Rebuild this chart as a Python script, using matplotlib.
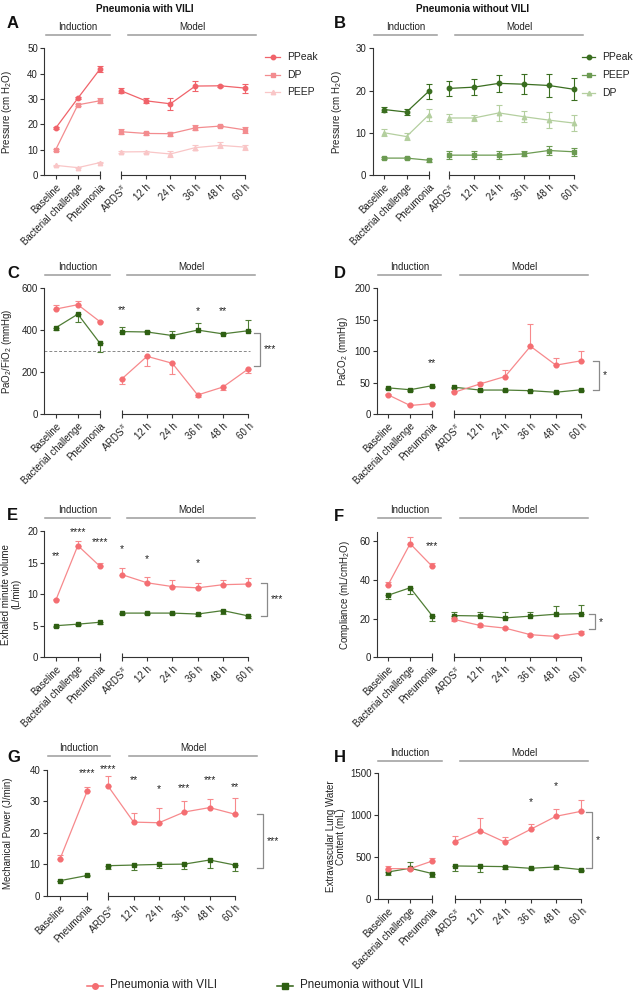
import matplotlib
matplotlib.use("Agg")
import matplotlib.pyplot as plt
from matplotlib.lines import Line2D

plt.rcParams['font.family'] = ['Liberation Sans', 'DejaVu Sans']
plt.rcParams['mathtext.fontset'] = 'custom'
plt.rcParams['mathtext.rm'] = 'Liberation Sans'
plt.rcParams['mathtext.it'] = 'Liberation Sans:italic'
plt.rcParams['mathtext.bf'] = 'Liberation Sans:bold'

# ---------------- data ----------------
ind_labels3 = ["Baseline", "Bacterial challenge", "Pneumonia"]
ind_labels2 = ["Baseline", "Pneumonia"]
mod_labels = ["ARDS$^{\\#}$", "12 h", "24 h", "36 h", "48 h", "60 h"]

# Panel A (Pneumonia with VILI) pressures, mean and symmetric error
A_ppeak = [18.5, 30.3, 41.8, 33.3, 29.3, 28.1, 35.1, 35.2, 34.3]
A_ppeak_err = [0.4, 0.5, 1.2, 1.0, 1.0, 2.4, 2.0, 0.3, 1.8]
A_dp = [10.0, 27.7, 29.3, 17.1, 16.4, 16.3, 18.6, 19.3, 17.8]
A_dp_err = [0.4, 0.5, 0.9, 0.9, 0.5, 0.8, 1.0, 0.5, 1.2]
A_peep = [3.8, 2.9, 4.9, 9.1, 9.2, 8.3, 10.8, 11.7, 11.0]
A_peep_err = [0.3, 0.3, 0.3, 0.4, 0.4, 1.2, 1.0, 1.2, 1.0]

# Panel B (Pneumonia without VILI)
B_ppeak = [15.5, 14.9, 19.8, 20.5, 20.8, 21.7, 21.5, 21.2, 20.3]
B_ppeak_err = [0.6, 0.7, 1.7, 1.8, 1.9, 2.0, 2.3, 2.8, 2.6]
B_peep = [4.0, 4.0, 3.5, 4.7, 4.7, 4.7, 5.0, 5.8, 5.5]
B_peep_err = [0.2, 0.2, 0.4, 0.9, 0.9, 0.9, 0.6, 1.0, 1.0]
B_dp = [10.0, 9.1, 14.2, 13.5, 13.5, 14.7, 13.8, 13.0, 12.3]
B_dp_err = [0.8, 0.9, 1.5, 1.0, 0.8, 1.8, 1.3, 1.9, 1.8]

# Panel C PaO2/FiO2
C_vili = [501, 522, 441, 168, 276, 243, 92, 130, 216]
C_vili_lo = [0, 0, 0, 24, 46, 53, 11, 14, 21]
C_vili_hi = [18, 16, 5, 0, 0, 0, 0, 0, 0]
C_novili = [412, 477, 338, 394, 392, 375, 401, 383, 398]
C_novili_lo = [11, 37, 40, 0, 0, 0, 0, 0, 0]
C_novili_hi = [0, 0, 0, 24, 4, 21, 35, 4, 49]

# Panel D PaCO2
D_vili = [31, 14, 17, 35, 48, 60, 108, 78, 85]
D_vili_lo = [0, 0, 0, 0, 0, 0, 0, 0, 0]
D_vili_hi = [1.5, 1.0, 1.0, 1.5, 3.0, 11, 36, 11, 16]
D_novili = [42, 39, 45.5, 43, 38.5, 38.5, 37.5, 35, 39]
D_novili_lo = [1.5, 1.5, 1.5, 1.5, 1.0, 1.0, 1.0, 1.0, 1.5]
D_novili_hi = [0, 0, 0, 0, 0, 0, 0, 0, 0]

# Panel E exhaled minute volume
E_vili = [9.0, 17.7, 14.4, 13.1, 11.8, 11.2, 11.0, 11.5, 11.6]
E_vili_lo = [0, 0, 0, 0, 0, 0, 0, 0, 0]
E_vili_hi = [0.2, 0.7, 0.5, 1.1, 0.9, 1.1, 0.7, 0.7, 0.9]
E_novili = [5.0, 5.25, 5.55, 7.0, 7.0, 7.0, 6.85, 7.4, 6.55]
E_novili_lo = [0.2, 0.2, 0.2, 0.2, 0.2, 0.2, 0.3, 0.6, 0.3]
E_novili_hi = [0, 0, 0, 0, 0, 0, 0, 0, 0]

# Panel F compliance
F_vili = [37.4, 58.8, 47.0, 19.6, 16.5, 15.1, 11.7, 10.8, 12.5]
F_vili_lo = [0, 0, 0, 0.8, 0.6, 0.7, 0.5, 0.5, 0.5]
F_vili_hi = [1.6, 3.7, 1.7, 0.8, 0.6, 0.7, 0.5, 0.5, 1.0]
F_novili = [32.1, 36.0, 21.4, 21.6, 21.4, 20.4, 21.3, 22.3, 22.6]
F_novili_lo = [1.9, 3.0, 2.4, 0, 0, 0, 0, 0, 0]
F_novili_hi = [0, 0, 0, 2.0, 2.2, 3.3, 1.9, 4.5, 4.6]

# Panel G mechanical power (no bacterial challenge point)
G_vili = [11.7, 33.3, 34.7, 23.4, 23.2, 26.6, 28.0, 25.9]
G_vili_lo = [0, 0, 0, 0, 0, 0, 0, 0]
G_vili_hi = [1.4, 1.3, 3.2, 2.9, 4.8, 3.5, 2.8, 5.2]
G_novili = [4.85, 6.5, 9.6, 9.8, 10.0, 10.1, 11.4, 9.8]
G_novili_lo = [0.2, 0.3, 1.1, 1.5, 1.0, 1.7, 2.5, 1.9]
G_novili_hi = [0, 0, 0, 0, 0, 0, 0, 0]

# Panel H extravascular lung water
H_vili = [365, 365, 456, 686, 817, 679, 833, 988, 1048]
H_vili_lo = [0, 20, 0, 0, 0, 0, 0, 0, 0]
H_vili_hi = [30, 0, 30, 69, 148, 66, 67, 87, 132]
H_novili = [325, 370, 306, 397, 393, 389, 369, 385, 353]
H_novili_lo = [35, 0, 36, 62, 68, 24, 14, 25, 13]
H_novili_hi = [0, 70, 0, 0, 0, 0, 0, 0, 0]

# significance annotations: (segment, index, y, text)
C_stars = [("m", 0, 497, "**"), ("m", 3, 492, "*"), ("m", 4, 492, "**")]
D_stars = [("i", 2, 81, "**")]
E_stars = [("i", 0, 16.0, "**"), ("i", 1, 19.8, "****"), ("i", 2, 18.3, "****"),
           ("m", 0, 17.1, "*"), ("m", 1, 15.6, "*"), ("m", 3, 14.9, "*")]
F_stars = [("i", 2, 57.8, "***")]
G_stars = [("i", 1, 38.8, "****"), ("m", 0, 40.2, "****"), ("m", 1, 36.6, "**"),
           ("m", 2, 33.9, "*"), ("m", 3, 34.1, "***"), ("m", 4, 36.6, "***"),
           ("m", 5, 34.5, "**")]
H_stars = [("m", 3, 1163, "*"), ("m", 4, 1353, "*")]

# ---------------- styling ----------------
W, H = 644.0, 992.0
PINK = '#F46E72'
PINK_L = '#F7898C'
GREEN = '#2E5F12'
GREEN_L = '#4F7D35'
A_cols = ['#F0636A', '#F38C8F', '#F9C6C7']
B_cols = ['#3A6E20', '#6C9B52', '#B4CF9F']
GRAY = '#9B9B9B'
TXT = '#222222'
FS = 7
SFS = 7.5

fig = plt.figure(figsize=(W / 100, H / 100), dpi=100)


def fx(x):
    return x / W


def fy(y):
    return 1 - y / H


def rect(x0, x1, ytop, ybot):
    return [x0 / W, 1 - ybot / H, (x1 - x0) / W, (ybot - ytop) / H]


def style_ax(ax, left_spine):
    for s in ['top', 'right']:
        ax.spines[s].set_visible(False)
    for s in ['left', 'bottom']:
        ax.spines[s].set_linewidth(0.8)
        ax.spines[s].set_color('#333333')
    if not left_spine:
        ax.spines['left'].set_visible(False)
        ax.set_yticks([])
    ax.patch.set_alpha(0)
    ax.tick_params(axis='both', which='major', direction='out', length=3,
                   width=0.8, color='#333333', labelsize=FS, pad=1.5,
                   labelcolor=TXT)
    ax.tick_params(axis='x', which='minor', direction='in', length=3,
                   width=0.8, color='#333333')
    ax.xaxis.remove_overlapping_locs = False


def make_panel(g, ylim, yticks, ind_labels):
    yax, i0, i1, m0, m1, ytop, ybot = g
    n = len(ind_labels)
    sp = (i1 - i0) / (n - 1)
    axi = fig.add_axes(rect(yax, i1, ytop, ybot))
    axi.set_xlim(-(i0 - yax) / sp, n - 1)
    axm = fig.add_axes(rect(m0, m1, ytop, ybot))
    axm.set_xlim(0, 5)
    for ax in (axi, axm):
        ax.set_ylim(*ylim)
    style_ax(axi, True)
    style_ax(axm, False)
    axi.set_yticks(yticks)
    axi.set_xticks(range(n))
    axi.set_xticklabels(ind_labels, rotation=45, ha='right',
                        rotation_mode='anchor')
    axi.set_xticks([n - 1], minor=True)
    axm.set_xticks(range(6))
    axm.set_xticklabels(mod_labels, rotation=45, ha='right',
                        rotation_mode='anchor')
    axm.set_xticks([0], minor=True)
    axi.tick_params(axis='x', pad=2)
    axm.tick_params(axis='x', pad=2)
    return axi, axm, n


def series(axi, axm, n, vals, lo, hi, color, lcolor, marker, ms):
    for ax, sl, xs in ((axi, slice(0, n), list(range(n))),
                       (axm, slice(n, n + 6), list(range(6)))):
        v = vals[sl]
        e = [lo[sl], hi[sl]]
        ax.plot(xs, v, '-', color=lcolor, lw=0.9, clip_on=False, zorder=3)
        cont = ax.errorbar(xs, v, yerr=e, fmt='none', ecolor=lcolor,
                           elinewidth=0.8, capsize=2.2, capthick=0.8,
                           zorder=3)
        for art in list(cont.lines[1]) + list(cont.lines[2]):
            art.set_clip_on(False)
        ax.plot(xs, v, linestyle='none', marker=marker, ms=ms, color=color,
                mec=color, clip_on=False, zorder=4)


def group_headers(y, ib, mb):
    for (x0, x1), lab in ((ib, 'Induction'), (mb, 'Model')):
        fig.add_artist(Line2D([fx(x0), fx(x1)], [fy(y), fy(y)],
                              color=GRAY, lw=1.1))
        fig.text(fx((x0 + x1) / 2), fy(y - 3), lab, ha='center',
                 va='bottom', fontsize=FS, color=TXT)


def letter(x, y, s):
    fig.text(fx(x), fy(y), s, ha='left', va='center', fontsize=12,
             fontweight='bold', color='#111111')


def ylabel(x, g, s):
    yc = (g[5] + g[6]) / 2
    fig.text(fx(x), fy(yc), s, rotation=90, ha='center', va='center',
             fontsize=FS, color=TXT, linespacing=1.1)


def stars(axi, axm, lst):
    for seg, idx, y, s in lst:
        ax = axi if seg == 'i' else axm
        ax.text(idx, y, s, ha='center', va='center', fontsize=SFS,
                color=TXT, clip_on=False)


def sig_bracket(axm, g, xpx, y1, y2, s):
    m0, m1 = g[3], g[4]
    xd = (xpx - m0) / (m1 - m0) * 5
    t = 6 / (m1 - m0) * 5
    axm.plot([xd - t, xd, xd, xd - t], [y1, y1, y2, y2], color='#8A8A8A',
             lw=0.9, clip_on=False)
    axm.text(xd + 4 / (m1 - m0) * 5, (y1 + y2) / 2, s, ha='left',
             va='center', fontsize=SFS, color=TXT, clip_on=False)


def legend_item(x0, x1, y, color, marker, ms, label, fs, lw=0.9):
    fig.add_artist(Line2D([fx(x0), fx(x1)], [fy(y), fy(y)], color=color,
                          lw=lw))
    fig.add_artist(Line2D([fx((x0 + x1) / 2)], [fy(y)], color=color,
                          marker=marker, ms=ms, linestyle='none'))
    fig.text(fx(x1 + 7), fy(y), label, ha='left', va='center', fontsize=fs,
             color=TXT)


# ---------------- Panel A ----------------
gA = (44.3, 55.7, 100.0, 120.7, 245.0, 48.3, 175.0)
axi, axm, n = make_panel(gA, (0, 50), [0, 10, 20, 30, 40, 50], ind_labels3)
series(axi, axm, n, A_peep, A_peep_err, A_peep_err, A_cols[2], A_cols[2], '^', 3.2)
series(axi, axm, n, A_dp, A_dp_err, A_dp_err, A_cols[1], A_cols[1], 's', 3.0)
series(axi, axm, n, A_ppeak, A_ppeak_err, A_ppeak_err, A_cols[0], A_cols[0], 'o', 3.2)
group_headers(35, (46, 110), (128, 256))
letter(7, 23, 'A')
fig.text(fx(145), fy(8.5), 'Pneumonia with VILI', ha='center', va='center',
         fontsize=7.2, fontweight='bold', color='#111111')
ylabel(7.5, gA, 'Pressure (cm H$_2$O)')
legend_item(265, 280, 57, A_cols[0], 'o', 3.2, 'PPeak', 7.5)
legend_item(265, 280, 75, A_cols[1], 's', 3.0, 'DP', 7.5)
legend_item(265, 280, 92, A_cols[2], '^', 3.2, 'PEEP', 7.5)

# ---------------- Panel B ----------------
gB = (372.7, 384.3, 428.7, 449.0, 573.7, 48.3, 175.0)
axi, axm, n = make_panel(gB, (0, 30), [0, 10, 20, 30], ind_labels3)
series(axi, axm, n, B_dp, B_dp_err, B_dp_err, B_cols[2], B_cols[2], '^', 3.2)
series(axi, axm, n, B_peep, B_peep_err, B_peep_err, B_cols[1], B_cols[1], 's', 3.0)
series(axi, axm, n, B_ppeak, B_ppeak_err, B_ppeak_err, B_cols[0], B_cols[0], 'o', 3.2)
group_headers(35, (373.7, 437), (455, 583))
letter(334, 23, 'B')
fig.text(fx(473), fy(8.5), 'Pneumonia without VILI', ha='center',
         va='center', fontsize=7.2, fontweight='bold', color='#111111')
ylabel(337, gB, 'Pressure (cm H$_2$O)')
legend_item(582, 595, 57, B_cols[0], 'o', 3.2, 'PPeak', 7.5)
legend_item(582, 595, 75, B_cols[1], 's', 3.0, 'PEEP', 7.5)
legend_item(582, 595, 93, B_cols[2], '^', 3.2, 'DP', 7.5)

# ---------------- Panel C ----------------
gC = (44.3, 55.7, 100.0, 121.7, 248.3, 288.3, 414.3)
axi, axm, n = make_panel(gC, (0, 600), [0, 200, 400, 600], ind_labels3)
sp = (gC[2] - gC[1]) / 2
axi.plot([-(gC[1] - gC[0]) / sp, (250 - gC[1]) / sp], [300, 300],
         ls=(0, (3, 2)), color='#888888', lw=0.7, clip_on=False, zorder=2)
series(axi, axm, n, C_novili, C_novili_lo, C_novili_hi, GREEN, GREEN_L, 's', 3.4)
series(axi, axm, n, C_vili, C_vili_lo, C_vili_hi, PINK, PINK_L, 'o', 3.4)
stars(axi, axm, C_stars)
sig_bracket(axm, gC, 260, 389, 229, '***')
group_headers(275, (45, 109.7), (127, 255))
letter(7, 273, 'C')
ylabel(7.5, gC, 'PaO$_2$/FiO$_2$ (mmHg)')

# ---------------- Panel D ----------------
gD = (377.0, 388.0, 432.3, 454.3, 581.3, 288.3, 414.3)
axi, axm, n = make_panel(gD, (0, 200), [0, 50, 100, 150, 200], ind_labels3)
series(axi, axm, n, D_novili, D_novili_lo, D_novili_hi, GREEN, GREEN_L, 's', 3.4)
series(axi, axm, n, D_vili, D_vili_lo, D_vili_hi, PINK, PINK_L, 'o', 3.4)
stars(axi, axm, D_stars)
sig_bracket(axm, gD, 598.7, 85, 39, '*')
group_headers(275, (378, 441.3), (460.3, 587.7))
letter(334, 273, 'D')
ylabel(343.5, gD, 'PaCO$_2$ (mmHg)')

# ---------------- Panel E ----------------
gE = (44.3, 55.7, 100.0, 121.7, 248.3, 531.0, 657.3)
axi, axm, n = make_panel(gE, (0, 20), [0, 5, 10, 15, 20], ind_labels3)
series(axi, axm, n, E_novili, E_novili_lo, E_novili_hi, GREEN, GREEN_L, 's', 3.4)
series(axi, axm, n, E_vili, E_vili_lo, E_vili_hi, PINK, PINK_L, 'o', 3.4)
stars(axi, axm, E_stars)
sig_bracket(axm, gE, 266.7, 11.7, 6.6, '***')
group_headers(517.7, (45, 109.7), (127, 255))
letter(7, 516, 'E')
ylabel(11, gE, 'Exhaled minute volume\n(L/min)')

# ---------------- Panel F ----------------
gF = (377.0, 388.0, 432.3, 454.3, 581.3, 531.7, 657.3)
axi, axm, n = make_panel(gF, (0, 65), [0, 20, 40, 60], ind_labels3)
series(axi, axm, n, F_novili, F_novili_lo, F_novili_hi, GREEN, GREEN_L, 's', 3.4)
series(axi, axm, n, F_vili, F_vili_lo, F_vili_hi, PINK, PINK_L, 'o', 3.4)
stars(axi, axm, F_stars)
sig_bracket(axm, gF, 594.7, 22.5, 14.4, '*')
group_headers(518.3, (378, 441.3), (460.3, 587.7))
letter(334, 516.7, 'F')
ylabel(345, gF, 'Compliance (mL/cmH$_2$O)')

# ---------------- Panel G ----------------
gG = (46.7, 60.0, 87.3, 108.3, 235.0, 769.7, 896.0)
axi, axm, n = make_panel(gG, (0, 40), [0, 10, 20, 30, 40], ind_labels2)
series(axi, axm, n, G_novili, G_novili_lo, G_novili_hi, GREEN, GREEN_L, 's', 3.4)
series(axi, axm, n, G_vili, G_vili_lo, G_vili_hi, PINK, PINK_L, 'o', 3.4)
stars(axi, axm, G_stars)
sig_bracket(axm, gG, 262.7, 25.9, 9.0, '***')
group_headers(756, (47.7, 110), (129.3, 256.7))
letter(7, 758, 'G')
ylabel(8.5, gG, 'Mechanical Power (J/min)')

# ---------------- Panel H ----------------
gH = (377.7, 388.0, 432.3, 454.7, 581.3, 773.3, 899.3)
axi, axm, n = make_panel(gH, (0, 1500), [0, 500, 1000, 1500], ind_labels3)
series(axi, axm, n, H_novili, H_novili_lo, H_novili_hi, GREEN, GREEN_L, 's', 3.4)
series(axi, axm, n, H_vili, H_vili_lo, H_vili_hi, PINK, PINK_L, 'o', 3.4)
stars(axi, axm, H_stars)
sig_bracket(axm, gH, 592, 1040, 375, '*')
group_headers(760.7, (378, 442), (460.3, 587.7))
letter(334, 758, 'H')
ylabel(336, gH, 'Extravascular Lung Water\nContent (mL)')

# ---------------- bottom legend ----------------
legend_item(87, 103, 985.5, PINK, 'o', 4, 'Pneumonia with VILI', 8.4, lw=1.1)
legend_item(277, 293, 985.5, GREEN, 's', 4, 'Pneumonia without VILI', 8.4, lw=1.1)

fig.savefig('out.png', dpi=100)
